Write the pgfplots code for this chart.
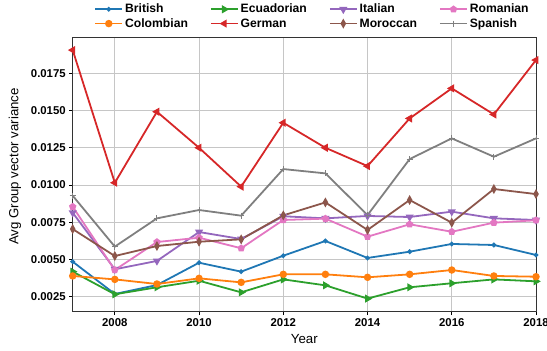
\documentclass[border=0pt]{standalone}
\usepackage{pgfplots}
\pgfplotsset{compat=1.18}
\usepackage{fontspec}
\setmainfont{Liberation Sans}
\definecolor{tBlue}{HTML}{1F77B4}
\definecolor{tOrange}{HTML}{FF7F0E}
\definecolor{tGreen}{HTML}{2CA02C}
\definecolor{tRed}{HTML}{D62728}
\definecolor{tPurple}{HTML}{9467BD}
\definecolor{tBrown}{HTML}{8C564B}
\definecolor{tPink}{HTML}{E377C2}
\definecolor{tGray}{HTML}{7F7F7F}
\begin{document}
\begin{tikzpicture}
\useasboundingbox (-72.7bp,-39.3bp) rectangle (474.3bp,311.7bp);
\begin{axis}[
  at={(0,0)}, anchor=south west,
  scale only axis, width=463.3bp, height=274.4bp,
  xmin=2007, xmax=2018, ymin=0.00149, ymax=0.01992,
  xtick={2008,2010,...,2018},
  ytick={0.0025,0.005,0.0075,0.01,0.0125,0.015,0.0175},
  scaled y ticks=false,
  yticklabel style={/pgf/number format/fixed,/pgf/number format/fixed zerofill,/pgf/number format/precision=4},
  xticklabel style={/pgf/number format/set thousands separator={}},
  /pgf/number format/assume math mode=true,
  ticklabel style={font=\fontsize{11.4}{13}\selectfont\bfseries},
  tick align=outside, tick pos=left,
  major tick length=3.5bp,
  every tick/.style={black, line width=0.8pt},
  grid=major,
  grid style={gray!45, line width=0.8pt},
  axis line style={black!80, line width=0.8pt},
  xlabel={Year}, ylabel={Avg Group vector variance},
  label style={font=\fontsize{13.3}{15}\selectfont},
  xlabel style={at={(axis description cs:0.5,0)}, anchor=center, yshift=-27.5bp},
  ylabel style={at={(axis description cs:-0.1245,0.529)}, anchor=center},
  legend columns=4,
  legend cell align=left,
  legend style={draw=none, fill=none, at={(0.5176,1.136)}, anchor=north,
    font=\fontsize{12.2}{14}\selectfont\bfseries,
    /tikz/every even column/.append style={column sep=20bp}},
  legend image code/.code={\draw[mark repeat=2,mark phase=2,#1] plot coordinates {(0bp,0bp)(13.5bp,0bp)(27bp,0bp)};},
  every axis plot/.append style={line width=1.8pt},
]
% British
\addplot[color=tBlue, mark=*, mark size=1.4pt, mark options={solid}] coordinates {
(2007,0.00485)(2008,0.00268)(2009,0.00328)(2010,0.00478)(2011,0.00418)(2012,0.00525)(2013,0.00624)(2014,0.0051)(2015,0.00552)(2016,0.00604)(2017,0.00597)(2018,0.0053)};
\addlegendentry{British}
% Ecuadorian
\addplot[color=tGreen, mark=triangle*, mark size=3pt, mark options={solid, rotate=-90}] coordinates {
(2007,0.00418)(2008,0.00266)(2009,0.00313)(2010,0.00357)(2011,0.00279)(2012,0.00366)(2013,0.00326)(2014,0.00237)(2015,0.00313)(2016,0.0034)(2017,0.00366)(2018,0.00353)};
\addlegendentry{Ecuadorian}
% Italian
\addplot[color=tPurple, mark=triangle*, mark size=3pt, mark options={solid, rotate=180}] coordinates {
(2007,0.00814)(2008,0.00434)(2009,0.0049)(2010,0.00684)(2011,0.00637)(2012,0.0079)(2013,0.00776)(2014,0.00792)(2015,0.00785)(2016,0.00821)(2017,0.00776)(2018,0.00765)};
\addlegendentry{Italian}
% Romanian
\addplot[color=tPink, mark=pentagon*, mark size=2.8pt, mark options={solid}] coordinates {
(2007,0.00854)(2008,0.00429)(2009,0.00617)(2010,0.00646)(2011,0.00575)(2012,0.00765)(2013,0.00774)(2014,0.00653)(2015,0.00736)(2016,0.00686)(2017,0.00747)(2018,0.00763)};
\addlegendentry{Romanian}
% Colombian
\addplot[color=tOrange, mark=*, mark size=2.8pt, mark options={solid}] coordinates {
(2007,0.00389)(2008,0.00366)(2009,0.00335)(2010,0.00373)(2011,0.00346)(2012,0.0040)(2013,0.0040)(2014,0.0038)(2015,0.0040)(2016,0.00429)(2017,0.00389)(2018,0.00384)};
\addlegendentry{Colombian}
% German
\addplot[color=tRed, mark=triangle*, mark size=3pt, mark options={solid, rotate=90}] coordinates {
(2007,0.01906)(2008,0.01015)(2009,0.01492)(2010,0.0125)(2011,0.00989)(2012,0.01418)(2013,0.0125)(2014,0.01127)(2015,0.01447)(2016,0.01649)(2017,0.01474)(2018,0.01839)};
\addlegendentry{German}
% Moroccan
\addplot[color=tBrown, mark=diamond*, mark size=3.2pt, mark options={solid, xscale=0.75}] coordinates {
(2007,0.00704)(2008,0.00523)(2009,0.0059)(2010,0.00619)(2011,0.00635)(2012,0.00796)(2013,0.00883)(2014,0.00698)(2015,0.00899)(2016,0.00747)(2017,0.00973)(2018,0.00939)};
\addlegendentry{Moroccan}
% Spanish
\addplot[color=tGray, mark=+, mark size=3pt, mark options={solid, line width=1pt}] coordinates {
(2007,0.00928)(2008,0.00586)(2009,0.00776)(2010,0.00832)(2011,0.00794)(2012,0.01107)(2013,0.01078)(2014,0.00798)(2015,0.01174)(2016,0.01313)(2017,0.0119)(2018,0.01313)};
\addlegendentry{Spanish}
\end{axis}
\end{tikzpicture}
\end{document}
